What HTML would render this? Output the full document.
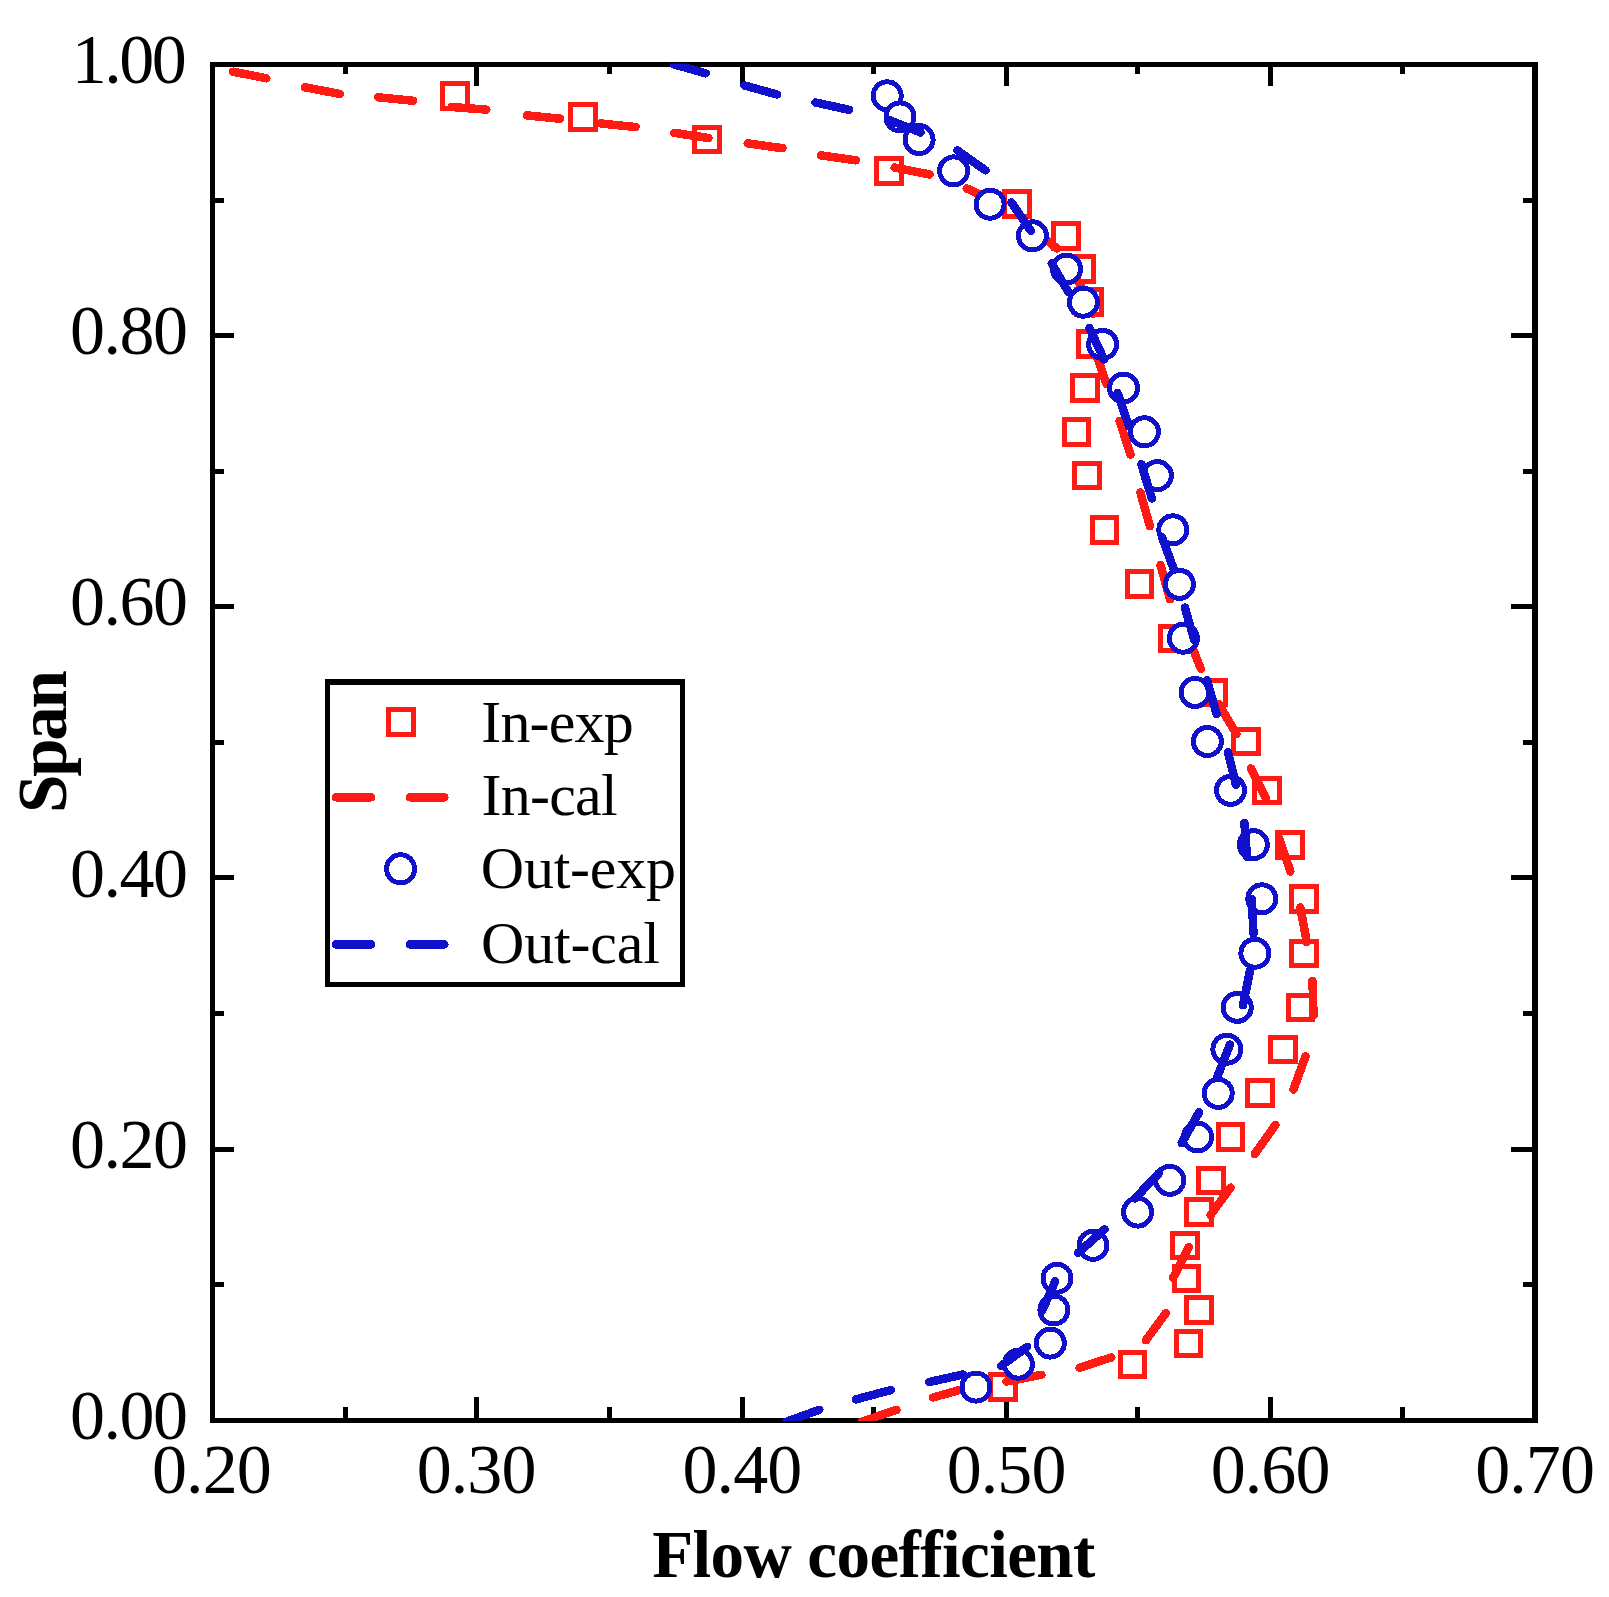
<!DOCTYPE html><html><head><meta charset="utf-8"><title>Flow coefficient vs Span</title>
<style>html,body{margin:0;padding:0;background:#ffffff;}svg{display:block;}text{font-family:"Liberation Serif","Times New Roman",serif;fill:#000;}</style></head><body>
<svg width="1609" height="1597" viewBox="0 0 1609 1597" shape-rendering="crispEdges">
<defs><clipPath id="pc"><rect x="209" y="63.4" width="1329" height="1357.6"/></clipPath></defs>
<rect width="1609" height="1597" fill="#ffffff"/>
<g fill="#000">
<rect x="209.5" y="62" width="1328.1" height="5"/>
<rect x="209.5" y="1417.8" width="1328.1" height="5"/>
<rect x="209.5" y="62" width="5.2" height="1360.8"/>
<rect x="1532.3" y="62" width="5.3" height="1360.8"/>
<rect x="474" y="1397" width="5" height="21"/>
<rect x="474" y="66" width="5" height="19.8"/>
<rect x="739.8" y="1397" width="5" height="21"/>
<rect x="739.8" y="66" width="5" height="19.8"/>
<rect x="1004" y="1397" width="5" height="21"/>
<rect x="1004" y="66" width="5" height="19.8"/>
<rect x="1268" y="1397" width="5" height="21"/>
<rect x="1268" y="66" width="5" height="19.8"/>
<rect x="342.7" y="1407.3" width="5" height="11"/>
<rect x="342.7" y="66" width="5" height="7.8"/>
<rect x="606.9" y="1407.3" width="5" height="11"/>
<rect x="606.9" y="66" width="5" height="7.8"/>
<rect x="871.4" y="1407.3" width="5" height="11"/>
<rect x="871.4" y="66" width="5" height="7.8"/>
<rect x="1135.2" y="1407.3" width="5" height="11"/>
<rect x="1135.2" y="66" width="5" height="7.8"/>
<rect x="1400" y="1407.3" width="5" height="11"/>
<rect x="1400" y="66" width="5" height="7.8"/>
<rect x="214" y="1146.6" width="19.8" height="5"/>
<rect x="1511.2" y="1146.6" width="21.5" height="5"/>
<rect x="214" y="875.45" width="19.8" height="5"/>
<rect x="1511.2" y="875.45" width="21.5" height="5"/>
<rect x="214" y="604.3" width="19.8" height="5"/>
<rect x="1511.2" y="604.3" width="21.5" height="5"/>
<rect x="214" y="333.15" width="19.8" height="5"/>
<rect x="1511.2" y="333.15" width="21.5" height="5"/>
<rect x="214" y="1282.17" width="9.6" height="5"/>
<rect x="1523.3" y="1282.17" width="9.5" height="5"/>
<rect x="214" y="1011.02" width="9.6" height="5"/>
<rect x="1523.3" y="1011.02" width="9.5" height="5"/>
<rect x="214" y="739.88" width="9.6" height="5"/>
<rect x="1523.3" y="739.88" width="9.5" height="5"/>
<rect x="214" y="468.72" width="9.6" height="5"/>
<rect x="1523.3" y="468.72" width="9.5" height="5"/>
<rect x="214" y="197.58" width="9.6" height="5"/>
<rect x="1523.3" y="197.58" width="9.5" height="5"/>
</g>
<text x="71.65" y="82.85" font-size="70" letter-spacing="-2.43">1.00</text>
<text x="70.05" y="354.25" font-size="70" letter-spacing="-1.5">0.80</text>
<text x="70.05" y="625.4" font-size="70" letter-spacing="-1.5">0.60</text>
<text x="70.05" y="896.55" font-size="70" letter-spacing="-1.5">0.40</text>
<text x="70.05" y="1167.7" font-size="70" letter-spacing="-1.5">0.20</text>
<text x="70.05" y="1438.85" font-size="70" letter-spacing="-1.5">0.00</text>
<text x="152.1" y="1493.1" font-size="70" letter-spacing="-0.97">0.20</text>
<text x="416.8" y="1493.1" font-size="70" letter-spacing="-0.97">0.30</text>
<text x="682.6" y="1493.1" font-size="70" letter-spacing="-0.97">0.40</text>
<text x="946.8" y="1493.1" font-size="70" letter-spacing="-0.97">0.50</text>
<text x="1210.8" y="1493.1" font-size="70" letter-spacing="-0.97">0.60</text>
<text x="1475.3" y="1493.1" font-size="70" letter-spacing="-0.97">0.70</text>
<text x="652.15" y="1576.7" font-size="67" font-weight="bold" letter-spacing="-0.59">Flow coefficient</text>
<text transform="translate(65.5,812.9) rotate(-90)" font-size="69" font-weight="bold" letter-spacing="-2.3">Span</text>
<g fill="none" stroke="#ff1a14" stroke-width="5">
<rect x="442.75" y="83.55" width="24.5" height="24.5"/>
<rect x="570.85" y="104.65" width="24.5" height="24.5"/>
<rect x="694.85" y="127.45" width="24.5" height="24.5"/>
<rect x="876.85" y="158.75" width="24.5" height="24.5"/>
<rect x="1004.65" y="191.85" width="24.5" height="24.5"/>
<rect x="1053.65" y="223.55" width="24.5" height="24.5"/>
<rect x="1069.45" y="256.55" width="24.5" height="24.5"/>
<rect x="1076.55" y="289.95" width="24.5" height="24.5"/>
<rect x="1078.25" y="331.95" width="24.5" height="24.5"/>
<rect x="1072.85" y="375.75" width="24.5" height="24.5"/>
<rect x="1064.05" y="419.65" width="24.5" height="24.5"/>
<rect x="1074.75" y="463.25" width="24.5" height="24.5"/>
<rect x="1092.15" y="517.55" width="24.5" height="24.5"/>
<rect x="1127.15" y="571.75" width="24.5" height="24.5"/>
<rect x="1160.65" y="626.15" width="24.5" height="24.5"/>
<rect x="1200.55" y="680.35" width="24.5" height="24.5"/>
<rect x="1233.95" y="729.15" width="24.5" height="24.5"/>
<rect x="1254.75" y="778.25" width="24.5" height="24.5"/>
<rect x="1277.75" y="832.65" width="24.5" height="24.5"/>
<rect x="1291.75" y="886.65" width="24.5" height="24.5"/>
<rect x="1291.75" y="941.05" width="24.5" height="24.5"/>
<rect x="1288.25" y="995.15" width="24.5" height="24.5"/>
<rect x="1270.75" y="1037.05" width="24.5" height="24.5"/>
<rect x="1247.85" y="1080.85" width="24.5" height="24.5"/>
<rect x="1218.15" y="1124.55" width="24.5" height="24.5"/>
<rect x="1198.85" y="1168.15" width="24.5" height="24.5"/>
<rect x="1186.75" y="1199.85" width="24.5" height="24.5"/>
<rect x="1172.65" y="1233.05" width="24.5" height="24.5"/>
<rect x="1174.35" y="1266.45" width="24.5" height="24.5"/>
<rect x="1186.85" y="1297.75" width="24.5" height="24.5"/>
<rect x="1176.15" y="1331.15" width="24.5" height="24.5"/>
<rect x="1120.05" y="1352.25" width="24.5" height="24.5"/>
<rect x="990.65" y="1374.75" width="24.5" height="24.5"/>
</g>
<g clip-path="url(#pc)" stroke="#ff1a14" stroke-width="8.5" stroke-linecap="round" fill="none">
<line x1="233" y1="71.7" x2="266.3" y2="78.3"/>
<line x1="304.9" y1="87.3" x2="339.7" y2="93.9"/>
<line x1="378.3" y1="97.3" x2="413.3" y2="100.8"/>
<line x1="451.5" y1="107" x2="486.4" y2="109.6"/>
<line x1="526.8" y1="115.4" x2="560.2" y2="118.7"/>
<line x1="600.8" y1="123.5" x2="635.6" y2="127"/>
<line x1="674.2" y1="132.8" x2="708.4" y2="138"/>
<line x1="747.7" y1="143.3" x2="782.4" y2="148.2"/>
<line x1="820.9" y1="155.4" x2="855.8" y2="160.3"/>
<line x1="894.6" y1="167.6" x2="929.5" y2="174.4"/>
<line x1="966.7" y1="188.4" x2="998.6" y2="202.8"/>
<line x1="1030.2" y1="226.5" x2="1057" y2="248.5"/>
<line x1="1079" y1="282" x2="1093" y2="314"/>
<line x1="1095" y1="351" x2="1106.5" y2="384"/>
<line x1="1119.6" y1="420.9" x2="1130.5" y2="454.7"/>
<line x1="1140.4" y1="492.5" x2="1149.9" y2="526.3"/>
<line x1="1160.5" y1="565" x2="1170" y2="599.2"/>
<line x1="1188" y1="636.5" x2="1200.8" y2="668.8"/>
<line x1="1218.6" y1="704" x2="1236.5" y2="734"/>
<line x1="1250.9" y1="768.4" x2="1266" y2="798.5"/>
<line x1="1279" y1="838" x2="1290.4" y2="871.5"/>
<line x1="1300.3" y1="907.3" x2="1306.8" y2="942"/>
<line x1="1312.5" y1="981" x2="1313.5" y2="1015.5"/>
<line x1="1305.5" y1="1056.4" x2="1293.5" y2="1089.4"/>
<line x1="1275.5" y1="1124.8" x2="1254.8" y2="1154"/>
<line x1="1230.5" y1="1187.6" x2="1210.5" y2="1215"/>
<line x1="1188.7" y1="1247.2" x2="1173" y2="1278"/>
<line x1="1165.9" y1="1313" x2="1146" y2="1340.2"/>
<line x1="1111.4" y1="1357.4" x2="1079.6" y2="1367.8"/>
<line x1="1041.4" y1="1374.8" x2="1006.5" y2="1381.5"/>
<line x1="966.5" y1="1388" x2="933" y2="1397.5"/>
<line x1="896.4" y1="1410" x2="862" y2="1421.5"/>
</g>
<g fill="#fff" stroke="#1111cc" stroke-width="5">
<circle cx="887.2" cy="95.8" r="14"/>
<circle cx="900" cy="116.9" r="14"/>
<circle cx="919.1" cy="139.6" r="14"/>
<circle cx="953.7" cy="170.9" r="14"/>
<circle cx="990.1" cy="204.2" r="14"/>
<circle cx="1032.4" cy="235.8" r="14"/>
<circle cx="1066.5" cy="269" r="14"/>
<circle cx="1083.4" cy="302.2" r="14"/>
<circle cx="1102.6" cy="344.4" r="14"/>
<circle cx="1123.5" cy="388" r="14"/>
<circle cx="1144.4" cy="431.8" r="14"/>
<circle cx="1157.3" cy="475.6" r="14"/>
<circle cx="1172.8" cy="529.8" r="14"/>
<circle cx="1179.4" cy="584.3" r="14"/>
<circle cx="1183.4" cy="638.2" r="14"/>
<circle cx="1195" cy="692.4" r="14"/>
<circle cx="1207.4" cy="741.5" r="14"/>
<circle cx="1230.5" cy="790.4" r="14"/>
<circle cx="1253.3" cy="844.7" r="14"/>
<circle cx="1261.8" cy="898.8" r="14"/>
<circle cx="1254.9" cy="953.2" r="14"/>
<circle cx="1237.2" cy="1007.4" r="14"/>
<circle cx="1226.9" cy="1049.2" r="14"/>
<circle cx="1218.2" cy="1093.4" r="14"/>
<circle cx="1197.6" cy="1137" r="14"/>
<circle cx="1169.8" cy="1180.3" r="14"/>
<circle cx="1137.6" cy="1212.1" r="14"/>
<circle cx="1093" cy="1245.3" r="14"/>
<circle cx="1057" cy="1278.2" r="14"/>
<circle cx="1053.9" cy="1310" r="14"/>
<circle cx="1050.3" cy="1343.1" r="14"/>
<circle cx="1018.4" cy="1364.2" r="14"/>
<circle cx="976" cy="1387.1" r="14"/>
</g>
<g clip-path="url(#pc)" stroke="#1111cc" stroke-width="8.5" stroke-linecap="round" fill="none">
<line x1="674" y1="64.4" x2="705.7" y2="73.3"/>
<line x1="744.5" y1="85.5" x2="777.1" y2="94.5"/>
<line x1="815.6" y1="102.5" x2="849" y2="109.8"/>
<line x1="888" y1="119.5" x2="920.5" y2="132.5"/>
<line x1="957.4" y1="150.5" x2="985.5" y2="170.4"/>
<line x1="1011.4" y1="202.4" x2="1030.8" y2="230.7"/>
<line x1="1051.7" y1="263.5" x2="1068.6" y2="292.4"/>
<line x1="1089.5" y1="328" x2="1104" y2="359.5"/>
<line x1="1117.5" y1="393" x2="1129" y2="426.2"/>
<line x1="1141.4" y1="464.2" x2="1151.9" y2="498.5"/>
<line x1="1162" y1="537" x2="1174" y2="570"/>
<line x1="1184.9" y1="607.6" x2="1194.4" y2="640.4"/>
<line x1="1207" y1="680" x2="1216.6" y2="714.2"/>
<line x1="1228" y1="752" x2="1236" y2="785"/>
<line x1="1244.4" y1="822.8" x2="1247" y2="857"/>
<line x1="1251.8" y1="899" x2="1253.5" y2="934"/>
<line x1="1250" y1="970.7" x2="1243" y2="1005.2"/>
<line x1="1230" y1="1044.5" x2="1217" y2="1077.5"/>
<line x1="1199" y1="1112.4" x2="1181.7" y2="1143"/>
<line x1="1159" y1="1173" x2="1135" y2="1198.5"/>
<line x1="1104.5" y1="1229.4" x2="1078.2" y2="1252.8"/>
<line x1="1055.2" y1="1281.2" x2="1042" y2="1311"/>
<line x1="1027.3" y1="1346.8" x2="1001" y2="1366"/>
<line x1="963" y1="1374.5" x2="929.4" y2="1382"/>
<line x1="891" y1="1390" x2="855.8" y2="1399.4"/>
<line x1="819.3" y1="1409.8" x2="786.4" y2="1421.7"/>
</g>
<rect x="327.5" y="682" width="355.25" height="302.55" fill="#fff" stroke="#000" stroke-width="5.3"/>
<rect x="388.85" y="709.65" width="24.5" height="24.5" fill="none" stroke="#ff1a14" stroke-width="5"/>
<circle cx="400.6" cy="868.8" r="14" fill="none" stroke="#1111cc" stroke-width="5"/>
<g stroke="#ff1a14" stroke-width="8.5" stroke-linecap="round"><line x1="336" y1="797.3" x2="371.2" y2="797.3"/><line x1="410" y1="797.3" x2="444.4" y2="797.3"/></g>
<g stroke="#1111cc" stroke-width="8.5" stroke-linecap="round"><line x1="336" y1="944.4" x2="371.2" y2="944.4"/><line x1="410" y1="944.4" x2="444.4" y2="944.4"/></g>
<text x="481.25" y="741.75" font-size="60" letter-spacing="-0.82">In-exp</text>
<text x="481.45" y="815.4" font-size="60" letter-spacing="-0.74">In-cal</text>
<text x="480.8" y="888.45" font-size="60" letter-spacing="-0.23">Out-exp</text>
<text x="481" y="962.8" font-size="60" letter-spacing="-0.17">Out-cal</text>
</svg></body></html>
